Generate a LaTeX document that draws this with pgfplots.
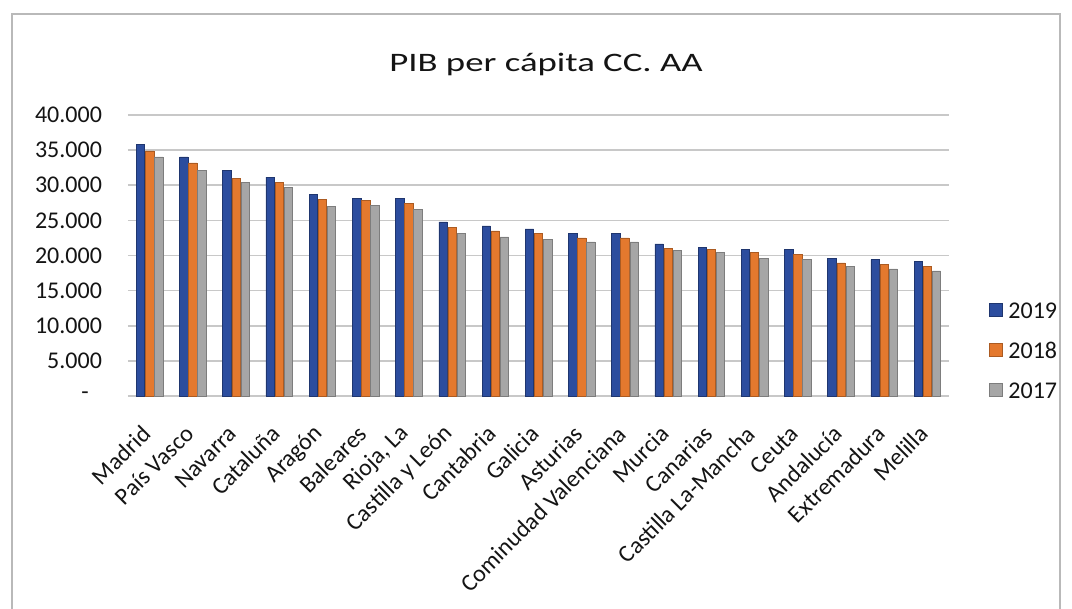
\documentclass[border=0pt]{standalone}
\usepackage{pgfplots}
\pgfplotsset{compat=1.18}
\usepackage{fontspec}
\setmainfont{Carlito}

\definecolor{c2019}{RGB}{44,77,158}
\definecolor{c2018}{RGB}{228,121,46}
\definecolor{c2017}{RGB}{166,166,166}
\definecolor{gridc}{RGB}{200,200,200}
\definecolor{txt}{RGB}{20,20,20}

\begin{document}
\begin{tikzpicture}
\useasboundingbox (0,0) rectangle (804pt,456pt);
% outer chart frame
\draw[gray!55, line width=0.8pt] (9pt,-10pt) -- (9pt,445.5pt) -- (795pt,445.5pt) -- (795pt,-10pt);
% title
\node[anchor=base, text=txt, inner sep=0pt] at (409.5pt,402.5pt)
  {\scalebox{1.38}[1]{\fontsize{20}{24}\selectfont PIB per cápita CC. AA}};

\begin{axis}[
  at={(96pt,159pt)}, anchor=south west,
  scale only axis, width=615.75pt, height=210.75pt,
  xmin=-0.5, xmax=18.5, ymin=0, ymax=40000,
  scaled y ticks=false,
  ybar=0.5pt, bar width=6.3pt,
  axis line style={draw=none},
  major tick length=0pt,
  ymajorgrids, grid style={gridc, line width=1.2pt},
  ytick={0,5000,10000,15000,20000,25000,30000,35000,40000},
  yticklabels={{-\rule{10pt}{0pt}},5.000,10.000,15.000,20.000,25.000,30.000,35.000,40.000},
  yticklabel style={font=\fontsize{18}{21}\selectfont, text=txt, xshift=-16pt},
  xtick={0,...,18},
  xticklabels={Madrid,País Vasco,Navarra,Cataluña,Aragón,Baleares,{Rioja, La},Castilla y León,Cantabria,Galicia,Asturias,Cominudad Valenciana,Murcia,Canarias,Castilla La-Mancha,Ceuta,Andalucía,Extremadura,Melilla},
  xticklabel style={font=\fontsize{18}{21}\selectfont, text=txt, yshift=-23pt, rotate=45, anchor=east},
  legend style={at={(1.0487,0.164)}, anchor=west, draw=none, fill=none,
    inner sep=0pt, row sep=17pt, column sep=4.5pt,
    nodes={inner sep=0pt, text height=13pt, text depth=0pt, text=txt},
    font=\fontsize{18}{21}\selectfont},
  legend cell align=left,
  legend image code/.code={\fill[#1] (0pt,-4.75pt) rectangle (9.5pt,4.75pt);},
]
\addplot[fill=c2019, draw=c2019!70!black, line width=0.4pt] coordinates {
 (0,35850) (1,34050) (2,32150) (3,31150) (4,28700) (5,28100) (6,28100)
 (7,24800) (8,24200) (9,23800) (10,23100) (11,23100) (12,21650) (13,21200)
 (14,20900) (15,20900) (16,19550) (17,19400) (18,19150)};
\addplot[fill=c2018, draw=c2018!75!black, line width=0.4pt] coordinates {
 (0,34900) (1,33200) (2,31000) (3,30450) (4,28000) (5,27850) (6,27400)
 (7,24050) (8,23500) (9,23100) (10,22500) (11,22500) (12,21050) (13,20850)
 (14,20450) (15,20150) (16,18950) (17,18700) (18,18500)};
\addplot[fill=c2017, draw=c2017!75!black, line width=0.4pt] coordinates {
 (0,34050) (1,32150) (2,30450) (3,29750) (4,27000) (5,27100) (6,26550)
 (7,23100) (8,22650) (9,22300) (10,21950) (11,21950) (12,20750) (13,20400)
 (14,19550) (15,19400) (16,18400) (17,18100) (18,17800)};
\legend{2019,2018,2017}
\end{axis}
\end{tikzpicture}
\end{document}
